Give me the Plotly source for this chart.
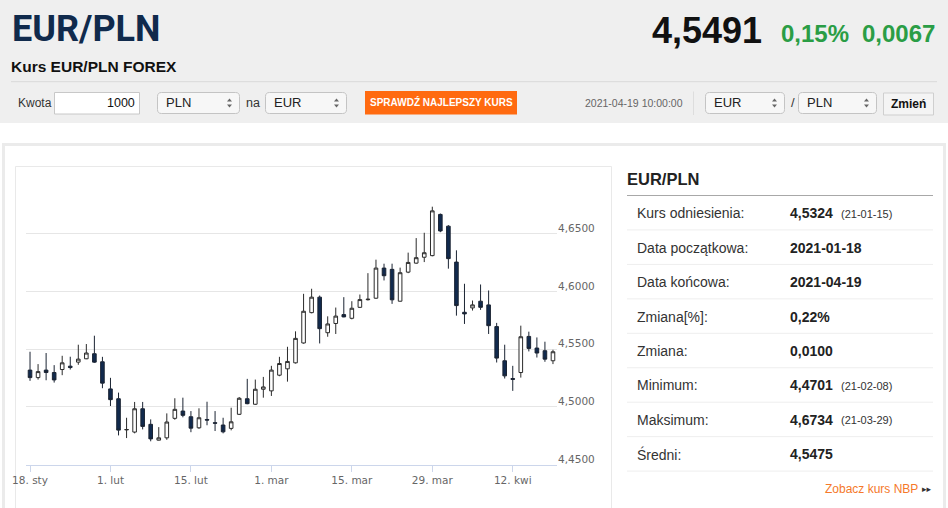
import pandas as pd
import plotly.graph_objects as go

W, H = 948, 508
ARIAL = "Liberation Sans, Arial, sans-serif"
AXISFONT = "DejaVu Sans, Verdana, sans-serif"

# trading days shown on the chart (ordinal axis)
dates = [d.strftime("%Y-%m-%d") for d in pd.bdate_range("2021-01-18", "2021-04-19")]

opens = [4.5318, 4.5253, 4.5318, 4.5297, 4.5323, 4.5352, 4.5387, 4.5416, 4.5460, 4.5390,
         4.5155, 4.5070, 4.4800, 4.4781, 4.4983, 4.4848, 4.4711, 4.4731, 4.4900, 4.4963,
         4.4914, 4.4818, 4.4890, 4.4862, 4.4842, 4.4813, 4.4935, 4.5070, 4.5022, 4.5152,
         4.5138, 4.5274, 4.5329, 4.5381, 4.5553, 4.5816, 4.5950, 4.5642, 4.5722, 4.5799,
         4.5767, 4.5862, 4.5928, 4.5941, 4.6202, 4.6191, 4.5915, 4.6167, 4.6245, 4.6296,
         4.6310, 4.6667, 4.6565, 4.6254, 4.5819, 4.5857, 4.5915, 4.5883, 4.5695, 4.5399,
         4.5245, 4.5297, 4.5610, 4.5509, 4.5486, 4.5399]
highs = [4.5477, 4.5370, 4.5466, 4.5361, 4.5442, 4.5434, 4.5538, 4.5544, 4.5616, 4.5433,
         4.5251, 4.5123, 4.4905, 4.5042, 4.5042, 4.4891, 4.4824, 4.4943, 4.5074, 4.5079,
         4.4963, 4.4987, 4.5044, 4.4963, 4.4905, 4.4992, 4.5085, 4.5242, 4.5236, 4.5259,
         4.5355, 4.5433, 4.5520, 4.5654, 4.5979, 4.6023, 4.5964, 4.5784, 4.5860, 4.5950,
         4.5915, 4.5973, 4.6158, 4.6275, 4.6240, 4.6240, 4.6206, 4.6336, 4.6462, 4.6508,
         4.6734, 4.6675, 4.6574, 4.6356, 4.6066, 4.5921, 4.6060, 4.6008, 4.5727, 4.5538,
         4.5355, 4.5703, 4.5651, 4.5601, 4.5564, 4.5494]
lows = [4.5225, 4.5236, 4.5230, 4.5210, 4.5274, 4.5323, 4.5364, 4.5413, 4.5381, 4.5161,
        4.5007, 4.4752, 4.4729, 4.4770, 4.4804, 4.4701, 4.4708, 4.4714, 4.4888, 4.4909,
        4.4780, 4.4809, 4.4840, 4.4790, 4.4770, 4.4796, 4.4929, 4.5022, 4.5016, 4.5079,
        4.5094, 4.5265, 4.5218, 4.5375, 4.5547, 4.5810, 4.5549, 4.5607, 4.5631, 4.5776,
        4.5758, 4.5856, 4.5921, 4.5936, 4.6095, 4.5892, 4.5912, 4.6158, 4.6240, 4.6254,
        4.6304, 4.6513, 4.6197, 4.5790, 4.5718, 4.5834, 4.5840, 4.5631, 4.5384, 4.5245,
        4.5138, 4.5253, 4.5480, 4.5427, 4.5390, 4.5370]
closes = [4.5253, 4.5305, 4.5297, 4.5233, 4.5381, 4.5340, 4.5413, 4.5466, 4.5387, 4.5205,
          4.5062, 4.4798, 4.4803, 4.4983, 4.4830, 4.4722, 4.4731, 4.4868, 4.4978, 4.4926,
          4.4815, 4.4905, 4.4885, 4.4858, 4.4783, 4.4870, 4.5074, 4.5027, 4.5152, 4.5172,
          4.5318, 4.5375, 4.5393, 4.5593, 4.5828, 4.5950, 4.5677, 4.5718, 4.5786, 4.5779,
          4.5854, 4.5929, 4.5932, 4.6202, 4.6136, 4.5927, 4.6162, 4.6251, 4.6292, 4.6335,
          4.6698, 4.6524, 4.6284, 4.5877, 4.5805, 4.5883, 4.5862, 4.5703, 4.5422, 4.5268,
          4.5238, 4.5607, 4.5506, 4.5466, 4.5413, 4.5477]

tick_dates = ["2021-01-18", "2021-02-01", "2021-02-15", "2021-03-01", "2021-03-15", "2021-03-29", "2021-04-12"]
tick_labels = ["18. sty", "1. lut", "15. lut", "1. mar", "15. mar", "29. mar", "12. kwi"]
price_ticks = [4.45, 4.50, 4.55, 4.60, 4.65, 4.70]
price_labels = ["4,4500", "4,5000", "4,5500", "4,6000", "4,6500", ""]

stat_labels = ["Kurs odniesienia:", "Data początkowa:", "Data końcowa:", "Zmiana[%]:",
               "Zmiana:", "Minimum:", "Maksimum:", "Średni:"]
stat_values = ["4,5324", "2021-01-18", "2021-04-19", "0,22%", "0,0100", "4,4701", "4,6734", "4,5475"]
stat_dates = ["(21-01-15)", "", "", "", "", "(21-02-08)", "(21-03-29)", ""]

shapes = []
annotations = []


def px(x):
    return x / W


def py(y):
    return 1 - y / H


def rect(x0, y0, x1, y1, fill, line=None, lw=1):
    shapes.append(dict(type="rect", xref="paper", yref="paper", layer="below",
                       x0=px(x0), x1=px(x1), y0=py(y1), y1=py(y0), fillcolor=fill,
                       line=dict(color=line or fill, width=lw if line else 0)))


def hline(x0, x1, y, color, lw=1):
    shapes.append(dict(type="line", xref="paper", yref="paper", layer="below",
                       x0=px(x0), x1=px(x1), y0=py(y), y1=py(y), line=dict(color=color, width=lw)))


def rrect(x0, y0, x1, y1, r, fill, line):
    def p(x, y):
        return f"{px(x):.5f},{py(y):.5f}"
    path = (f"M{p(x0 + r, y0)} L{p(x1 - r, y0)} Q{p(x1, y0)} {p(x1, y0 + r)} "
            f"L{p(x1, y1 - r)} Q{p(x1, y1)} {p(x1 - r, y1)} L{p(x0 + r, y1)} "
            f"Q{p(x0, y1)} {p(x0, y1 - r)} L{p(x0, y0 + r)} Q{p(x0, y0)} {p(x0 + r, y0)} Z")
    shapes.append(dict(type="path", xref="paper", yref="paper", layer="below", path=path,
                       fillcolor=fill, line=dict(color=line, width=1)))


def tri(cx, cy, up):
    if up:
        pts = [(cx - 2.5, cy + 1.5), (cx + 2.5, cy + 1.5), (cx, cy - 1.5)]
    else:
        pts = [(cx - 2.5, cy - 1.5), (cx + 2.5, cy - 1.5), (cx, cy + 1.5)]
    path = "M" + " L".join(f"{px(a):.5f},{py(b):.5f}" for a, b in pts) + " Z"
    shapes.append(dict(type="path", xref="paper", yref="paper", path=path,
                       fillcolor="#666666", line=dict(width=0)))


def text(x, y, s, size, color="#333333", family=ARIAL, weight=400, xanchor="left"):
    annotations.append(dict(x=px(x), y=py(y), xref="paper", yref="paper", text=s, showarrow=False,
                            xanchor=xanchor, yanchor="middle", borderpad=0, borderwidth=0,
                            font=dict(family=family, size=size, color=color, weight=weight)))


def select(x0, x1, label):
    rrect(x0, 92.5, x1, 113.5, 4, "#f7f7f7", "#c4c4c4")
    text(x0 + 8.5, 103, label, 13, "#222222")
    tri(x1 - 10, 100, True)
    tri(x1 - 10, 106, False)


# page background pieces
rect(0, 0, W, 123, "#efefef")
rect(3.5, 144.5, 944.5, 530, "white", "#ebebeb", 3)
rect(15.5, 166.5, 611.5, 530, "white", "#e9e9e9", 1)

# header
text(12, 28.5, "EUR/PLN", 36, "#102a4c", "Roboto, Open Sans, sans-serif", 700)
text(652, 30, "4,5491", 36, "#111111", weight=700)
text(781, 33.5, "0,15%", 24, "#2a9d45", weight=700)
text(862, 33.5, "0,0067", 24, "#2a9d45", weight=700)
text(11, 66, "Kurs EUR/PLN FOREX", 15.5, "#111111", weight=700)
hline(11, 937, 81.7, "#d9d9d9")

# converter row
text(18.3, 103, "Kwota", 12, "#333333")
rect(54.5, 92.5, 139.5, 114, "white", "#c8c8c8")
text(135, 103, "1000", 12.5, "#111111", xanchor="right")
select(157.5, 239.5, "PLN")
text(246, 103, "na", 12.5, "#333333")
select(265.5, 346.5, "EUR")
rect(365, 91, 517, 114.5, "#ff6a10")
text(441, 102.5, "SPRAWDŹ NAJLEPSZY KURS", 10, "white", weight=700, xanchor="center")
text(585, 103, "2021-04-19 10:00:00", 10.5, "#666666")
shapes.append(dict(type="line", xref="paper", yref="paper", x0=px(693.5), x1=px(693.5),
                   y0=py(91.5), y1=py(115), line=dict(color="#dddddd", width=1)))
select(705.5, 784.5, "EUR")
text(790.5, 103, "/", 13, "#333333")
select(798.5, 876.5, "PLN")
rect(883.5, 93, 933.5, 115, "#f4f4f4", "#cfcfcf")
text(908.5, 104, "Zmień", 12, "#111111", weight=700, xanchor="center")

# statistics table
text(627, 179, "EUR/PLN", 16.5, "#222222", weight=700)
hline(627, 933, 195.5, "#a8a8a8")
row_top, row_h = 195.5, 34.45
for i, lab in enumerate(stat_labels):
    yc = row_top + row_h * (i + 0.5) + 0.5
    text(637, yc, lab, 14, "#333333")
    text(790, yc, stat_values[i], 14, "#222222", weight=700)
    if stat_dates[i]:
        text(840.5, yc + 0.5, stat_dates[i], 11, "#333333")
    hline(627, 933, row_top + row_h * (i + 1), "#eeeeee")
text(918, 488.5, "Zobacz kurs NBP", 12, "#f5792a", xanchor="right")
text(922, 489, "▸▸", 9, "#333333", family=AXISFONT)

fig = go.Figure(go.Candlestick(
    x=dates, open=opens, high=highs, low=lows, close=closes,
    increasing=dict(fillcolor="white", line=dict(color="#2b2b2b", width=1)),
    decreasing=dict(fillcolor="#112a4e", line=dict(color="#1b2433", width=1)),
    whiskerwidth=0, showlegend=False, hoverinfo="skip",
))

fig.update_layout(
    width=W, height=H, autosize=False,
    margin=dict(l=0, r=0, t=0, b=0),
    paper_bgcolor="white", plot_bgcolor="rgba(0,0,0,0)",
    separators=",.",
    boxgap=0.36,
    shapes=shapes, annotations=annotations,
    xaxis=dict(
        domain=[px(26), px(557)], type="category", range=[-0.5, len(dates) - 0.5],
        tickvals=tick_dates, ticktext=tick_labels, automargin=False,
        ticks="outside", ticklen=6, tickcolor="#ccd6eb", tickwidth=1,
        showline=True, linecolor="#ccd6eb", linewidth=1, showgrid=False, zeroline=False,
        tickfont=dict(family=AXISFONT, size=10.5, color="#666666"),
        rangeslider=dict(visible=False), fixedrange=True,
    ),
    yaxis=dict(
        domain=[py(464.5), py(176)], range=[4.45, 4.70], side="right",
        tickvals=price_ticks, ticktext=price_labels, ticks="", automargin=False,
        ticklabelposition="outside top", ticklabelshift=2,
        showgrid=True, gridcolor="#e6e6e6", gridwidth=1, showline=False, zeroline=False,
        tickfont=dict(family=AXISFONT, size=10.5, color="#666666"), fixedrange=True,
    ),
)

fig.write_html("out.html", config=dict(displayModeBar=False),
               post_script="document.body.style.margin='0';document.body.style.overflow='hidden';")
